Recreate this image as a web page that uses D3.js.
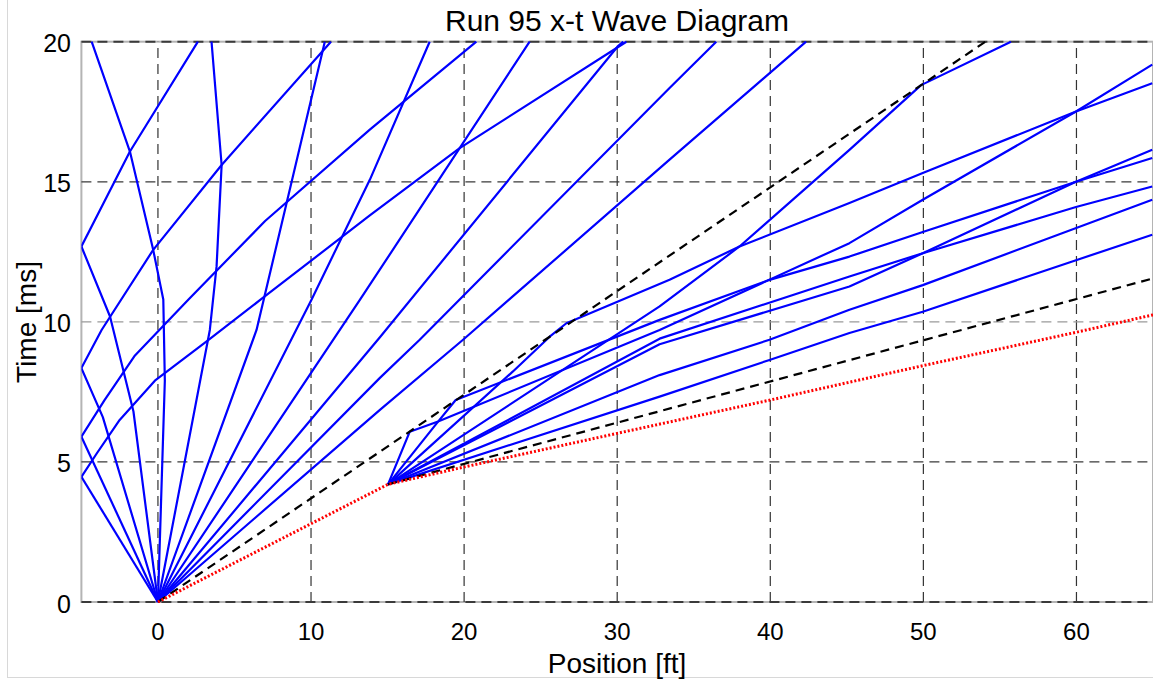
<!DOCTYPE html>
<html>
<head>
<meta charset="utf-8">
<script src="https://cdn.jsdelivr.net/npm/d3@7"></script>
<style>
  html, body { margin: 0; padding: 0; background: #fff; }
  svg { display: block; font-family: "Liberation Sans", Arial, Helvetica, sans-serif; }
</style>
</head>
<body>
<svg id="chart" width="1153" height="681"></svg>
<script>
// Axis ticks
const xTicks = [0, 10, 20, 30, 40, 50, 60];
const yTicks = [0, 5, 10, 15, 20];

// Shock path (red dotted) and contact surfaces (black dashed), [x ft, t ms]
const shockPath = [[0, 0], [15.03, 4.2], [20, 4.82], [30, 6.02], [40, 7.21], [50, 8.44], [60, 9.63], [65, 10.25]];
const contactUpper = [[0, 0], [54.05, 20]];
const contactLower = [[15.03, 4.2], [65, 11.55]];

// Centered fan at the origin, left-running waves
const fanOrigin = [
  [[0, 0], [-5, 4.47]],
  [[0, 0], [-5, 5.90]],
  [[0, 0], [-3.6, 6.6], [-5, 8.35]],
  [[0, 0], [-1.6, 6.8], [-3.13, 10.19], [-5, 12.69]],
  [[0, 0], [0.45, 7.9], [0.35, 10.8], [-0.31, 12.57], [-1.83, 16.08], [-4.33, 20]],
  [[0, 0], [3.39, 9.71], [3.83, 11.98], [4.16, 15.6], [3.5, 20]],
  [[0, 0], [6.44, 9.71], [10.9, 20]],
  [[0, 0], [10.03, 10.79], [13.84, 15.07], [17.75, 20]],
  [[0, 0], [13.2, 10.79], [19.71, 16.2], [24.28, 20]],
  [[0, 0], [14.5, 9.45], [30.03, 19.83], [30.4, 20]],
  [[0, 0], [14.5, 8.0], [17.1, 9.36], [33.42, 18.35], [36.47, 20]],
  [[0, 0], [14.5, 6.86], [19.93, 9.36], [33.42, 15.79], [42.34, 20]]
];

// Waves reflected from the closed end at x = -5 ft
const wallReflections = [
  [[-5, 4.47], [-4, 5.3], [-2.5, 6.5], [-0.2, 7.9], [3.18, 9.3], [6.7, 10.79], [13.84, 13.8], [19.71, 16.2], [30.6, 20]],
  [[-5, 5.90], [-3.5, 7.2], [-1.5, 8.8], [1.98, 10.79], [7, 13.6], [13.84, 16.86], [20.8, 20]],
  [[-5, 8.35], [-3.68, 9.71], [-0.31, 12.57], [4.16, 15.6], [11.3, 20]],
  [[-5, 12.69], [-1.83, 16.08], [2.61, 20]]
];

// Fan from the shock transition point at x = 15 ft
const fanShock = [
  [[15.03, 4.2], [16.45, 6.08], [18.3, 6.44], [32.77, 9.71], [45.17, 12.81], [49.96, 14.36], [59.97, 17.51], [64.95, 19.18]],
  [[15.03, 4.2], [18.3, 6.44], [19.45, 7.21], [32.77, 10.07], [39.95, 11.5], [45.17, 12.33], [49.96, 13.21], [59.97, 15.0], [64.95, 15.85]],
  [[15.03, 4.2], [23.19, 8.23], [25.59, 9.47], [26.68, 9.95], [33.42, 11.5], [37.99, 12.69], [45.17, 14.24], [49.96, 15.31], [59.97, 17.51], [64.95, 18.52]],
  [[15.03, 4.2], [32.77, 10.55], [37.99, 12.69], [45.17, 16.14], [49.85, 18.45], [55.72, 20]],
  [[15.03, 4.2], [32.77, 9.4], [45.17, 11.62], [49.96, 12.45], [59.97, 15.0], [64.95, 16.14]],
  [[15.03, 4.2], [32.77, 9.2], [45.17, 11.26], [49.96, 12.45], [59.97, 14.1], [64.95, 14.83]],
  [[15.03, 4.2], [32.77, 8.1], [39.95, 9.36], [45.17, 10.43], [49.96, 11.31], [64.95, 14.36]],
  [[15.03, 4.2], [32.77, 7.33], [39.95, 8.64], [45.17, 9.6], [49.96, 10.36], [59.97, 12.2], [64.95, 13.11]]
];

const svg = d3.select("#chart");
const margin = { left: 81.4, right: 0, top: 41.7, bottom: 79 };
const W = 1153, H = 681;

const x = d3.scaleLinear().domain([-5, 65]).range([margin.left, W - margin.right]);
const y = d3.scaleLinear().domain([0, 20]).range([H - margin.bottom, margin.top]);

// faint outer frame
svg.append("line").attr("x1", 7.5).attr("x2", 7.5).attr("y1", 0).attr("y2", 678)
  .attr("stroke", "#d8d8d8").attr("stroke-width", 1);
svg.append("line").attr("x1", 7.5).attr("x2", W).attr("y1", 677.5).attr("y2", 677.5)
  .attr("stroke", "#d8d8d8").attr("stroke-width", 1);

const plot = svg.append("g");

// axes box
plot.append("rect")
  .attr("x", x(-5)).attr("y", y(20))
  .attr("width", x(65) - x(-5)).attr("height", y(0) - y(20))
  .attr("fill", "none").attr("stroke", "#b4b4b4").attr("stroke-width", 2);

// grid
const gridDash = "10,6";
plot.append("g").selectAll("line").data(xTicks).join("line")
  .attr("x1", d => x(d)).attr("x2", d => x(d))
  .attr("y1", y(0)).attr("y2", y(20))
  .attr("stroke", "#333").attr("stroke-width", 1.2).attr("stroke-dasharray", gridDash);
plot.append("g").selectAll("line").data(yTicks).join("line")
  .attr("x1", x(-5)).attr("x2", x(65))
  .attr("y1", d => y(d)).attr("y2", d => y(d))
  .attr("stroke", d => d === 10 ? "#9a9a9a" : "#3a3a3a")
  .attr("stroke-width", d => (d === 0 || d === 20) ? 2 : 1.2)
  .attr("stroke-dasharray", gridDash);

svg.append("clipPath").attr("id", "plotClip").append("rect")
  .attr("x", x(-5)).attr("y", y(20) - 1)
  .attr("width", x(65) - x(-5)).attr("height", y(0) - y(20) + 2);

const line = d3.line().x(d => x(d[0])).y(d => y(d[1]));
const marks = svg.append("g").attr("clip-path", "url(#plotClip)");

// wave lines
[fanOrigin, wallReflections, fanShock].forEach(group => {
  marks.append("g").selectAll("path").data(group).join("path")
    .attr("d", line)
    .attr("fill", "none").attr("stroke", "#0000ff").attr("stroke-width", 2.2)
    .attr("stroke-linejoin", "round");
});

// contact surfaces
[contactUpper, contactLower].forEach(c => {
  marks.append("path").attr("d", line(c))
    .attr("fill", "none").attr("stroke", "#000").attr("stroke-width", 2.2)
    .attr("stroke-dasharray", "9,6");
});

// shock path
marks.append("path").attr("d", line(shockPath))
  .attr("fill", "none").attr("stroke", "#ff0000").attr("stroke-width", 3)
  .attr("stroke-dasharray", "2,2");

// tick labels
svg.append("g").selectAll("text").data(xTicks).join("text")
  .attr("x", d => x(d)).attr("y", 640)
  .attr("text-anchor", "middle").attr("font-size", 24).attr("fill", "#000")
  .text(d => d);
svg.append("g").selectAll("text").data(yTicks).join("text")
  .attr("x", 71).attr("y", d => y(d) + 10.5)
  .attr("text-anchor", "end").attr("font-size", 25).attr("fill", "#000")
  .text(d => d);

// titles
svg.append("text").attr("x", 617).attr("y", 31)
  .attr("text-anchor", "middle").attr("font-size", 30).attr("fill", "#000")
  .text("Run 95 x-t Wave Diagram");
svg.append("text").attr("x", 617).attr("y", 673)
  .attr("text-anchor", "middle").attr("font-size", 28).attr("fill", "#000")
  .text("Position [ft]");
svg.append("text").attr("transform", "translate(36,322) rotate(-90)")
  .attr("text-anchor", "middle").attr("font-size", 28).attr("fill", "#000")
  .text("Time [ms]");
</script>
</body>
</html>
